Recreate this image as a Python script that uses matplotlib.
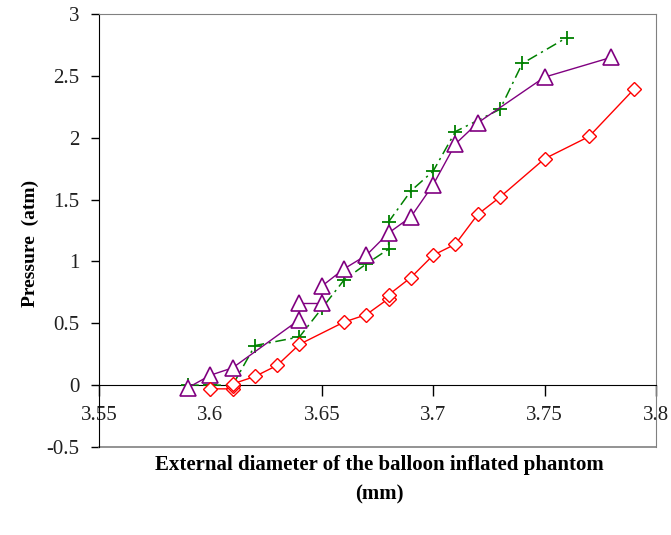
import matplotlib.pyplot as plt
from matplotlib.lines import Line2D

# balloon phantom: diameter (mm) vs. inflation pressure (atm), three runs
d_red = [3.60, 3.61, 3.61, 3.61, 3.62, 3.63, 3.64, 3.66, 3.67, 3.68, 3.68,
         3.69, 3.70, 3.71, 3.72, 3.73, 3.75, 3.77, 3.79]
p_red = [-0.03, -0.03, -0.01, 0.01, 0.07, 0.16, 0.33, 0.51, 0.57, 0.70, 0.73,
         0.87, 1.05, 1.14, 1.38, 1.52, 1.83, 2.01, 2.39]

d_purple = [3.59, 3.60, 3.61, 3.64, 3.64, 3.65, 3.65, 3.66, 3.67, 3.68, 3.69,
            3.70, 3.71, 3.72, 3.75, 3.78]
p_purple = [-0.02, 0.08, 0.14, 0.53, 0.66, 0.66, 0.80, 0.94, 1.05, 1.23, 1.36,
            1.62, 1.95, 2.12, 2.49, 2.65]

d_green = [3.59, 3.60, 3.61, 3.62, 3.64, 3.65, 3.66, 3.67, 3.68, 3.68, 3.69,
           3.70, 3.71, 3.73, 3.74, 3.76]
p_green = [0.0, 0.0, 0.0, 0.32, 0.39, 0.62, 0.85, 0.98, 1.10, 1.32, 1.57,
           1.73, 2.05, 2.23, 2.60, 2.81]

xticks = [3.55, 3.6, 3.65, 3.7, 3.75, 3.8]
yticks = [-0.5, 0, 0.5, 1, 1.5, 2, 2.5, 3]

serif = 'Liberation Serif'

fig = plt.figure(figsize=(6.71, 5.35), dpi=100)
ax = fig.add_axes([0.1475, 0.1645, 0.8301, 0.8093])

ax.plot(d_green, p_green, color='#008000', lw=1.1, ls=(0, (7, 3, 1.5, 3)),
        marker='+', ms=10, mew=1.3, zorder=3)
ax.plot(d_purple, p_purple, color='#800080', lw=1.0,
        marker='^', ms=11, mew=1.2, mfc='white', zorder=4)
ax.plot(d_red, p_red, color='#FF0000', lw=1.0,
        marker='D', ms=7.5, mew=1.0, mfc='white', zorder=5)

# category axis crosses at zero, plot area keeps a grey frame
ax.spines['bottom'].set_position(('data', 0))
ax.spines['bottom'].set_color('black')
ax.spines['left'].set_color('black')
for s in ['top', 'right']:
    ax.spines[s].set_color('#808080')
ax.add_line(Line2D([0, 1], [0, 0], transform=ax.transAxes, color='#808080',
                   lw=1.2, clip_on=False))

ax.set_xlim(3.55, 3.8)
ax.set_ylim(-0.5, 3)
ax.set_xticks(xticks)
ax.set_yticks(yticks)
ax.set_xticklabels([f'{v:g}' for v in xticks], fontfamily=serif, fontsize=15)
ax.set_yticklabels([f'{v:g}' for v in yticks], fontfamily=serif, fontsize=15)
ax.tick_params(axis='x', direction='out', length=8, width=1, pad=7,
               labelcolor='#202020')
ax.tick_params(axis='y', direction='out', length=6, width=1, pad=8,
               labelcolor='#202020')

fig.text(0.045, 0.545, 'Pressure  (atm)', fontfamily=serif, fontweight='bold',
         fontsize=14, rotation=90, ha='center', va='center')
fig.text(0.565, 0.131, 'External diameter of the balloon inflated phantom',
         fontfamily=serif, fontweight='bold', fontsize=15, ha='center', va='center')
fig.text(0.565, 0.075, '(mm)', fontfamily=serif, fontweight='bold',
         fontsize=15, ha='center', va='center')

fig.savefig('out.png', dpi=100)
